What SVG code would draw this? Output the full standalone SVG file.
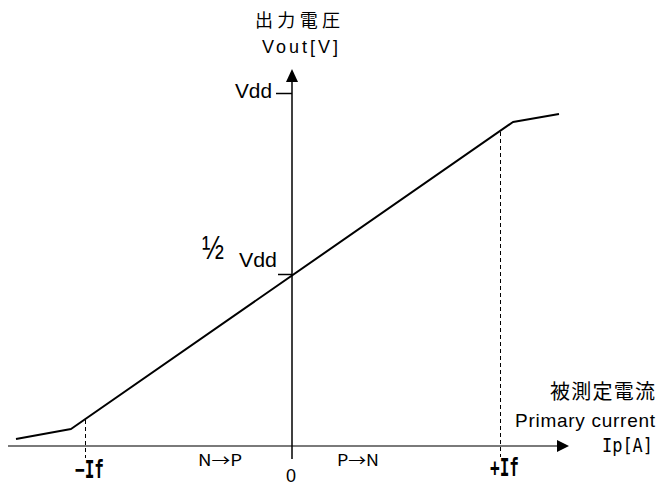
<svg xmlns="http://www.w3.org/2000/svg" width="660" height="486" viewBox="0 0 660 486">
<style>
.t{font-family:"Liberation Sans","Noto Sans CJK JP",sans-serif;fill:#000}
.j{font-family:"Noto Sans CJK JP",sans-serif;fill:#000}
.m{font-family:"DejaVu Sans Mono","Liberation Mono",monospace;fill:#000}
.ax{stroke:#000;stroke-width:1.5;fill:none}
.dash{stroke:#000;stroke-width:1;stroke-dasharray:4 3;fill:none}
</style>
<rect width="660" height="486" fill="#fff"/>
<g id="connectors">
  <line x1="8" y1="446" x2="558" y2="446" stroke="#7a7a7a" stroke-width="2"/>
  <polygon points="557,440 569,446 557,452" fill="#000"/>
  <line class="ax" x1="292" y1="459" x2="292" y2="81"/>
  <polygon points="286,82 292,69 298,82" fill="#000"/>
  <line class="ax" x1="276" y1="93.5" x2="292" y2="93.5" stroke-width="1"/>
  <line class="ax" x1="278" y1="274.5" x2="292" y2="274.5" stroke-width="1"/>
  <polyline points="16,439 71,429 513,122 559,114" fill="none" stroke="#000" stroke-width="2" stroke-linejoin="round"/>
  <line class="dash" x1="85.5" y1="420" x2="85.5" y2="458"/>
  <line class="dash" x1="500.5" y1="132" x2="500.5" y2="457"/>
</g>
<g id="y-axis-label">
  <text class="j" x="255" y="27" font-size="18" textLength="85" lengthAdjust="spacing">出力電圧</text>
  <text class="t" x="262" y="53" font-size="18" textLength="76" lengthAdjust="spacing">Vout[V]</text>
</g>
<g id="vdd-label">
  <text class="t" x="235" y="98" font-size="21" textLength="37" lengthAdjust="spacingAndGlyphs">Vdd</text>
</g>
<g id="half-vdd-label">
  <text class="t" x="202" y="259" font-size="34" textLength="22" lengthAdjust="spacingAndGlyphs">½</text>
  <text class="t" x="239" y="267" font-size="21" textLength="38" lengthAdjust="spacingAndGlyphs">Vdd</text>
</g>
<g id="x-axis-label">
  <text class="j" x="550" y="399" font-size="20" textLength="105" lengthAdjust="spacing">被測定電流</text>
  <text class="t" x="515" y="427" font-size="19" textLength="140" lengthAdjust="spacing">Primary current</text>
  <text class="m" x="602" y="452" font-size="19" textLength="51" lengthAdjust="spacingAndGlyphs">Ip[A]</text>
</g>
<g id="minus-if-label">
  <text class="m" x="75" y="478" font-size="25" font-weight="bold" textLength="29" lengthAdjust="spacingAndGlyphs">−If</text>
</g>
<g id="plus-if-label">
  <text class="m" x="490" y="476" font-size="24" font-weight="bold" textLength="29" lengthAdjust="spacingAndGlyphs">+If</text>
</g>
<g id="direction-labels">
  <text class="j" x="198" y="466" font-size="16" textLength="44" lengthAdjust="spacingAndGlyphs">N→P</text>
  <text class="j" x="337" y="466" font-size="16" textLength="42" lengthAdjust="spacingAndGlyphs">P→N</text>
  <text class="t" x="286" y="482" font-size="18">0</text>
</g>
</svg>
